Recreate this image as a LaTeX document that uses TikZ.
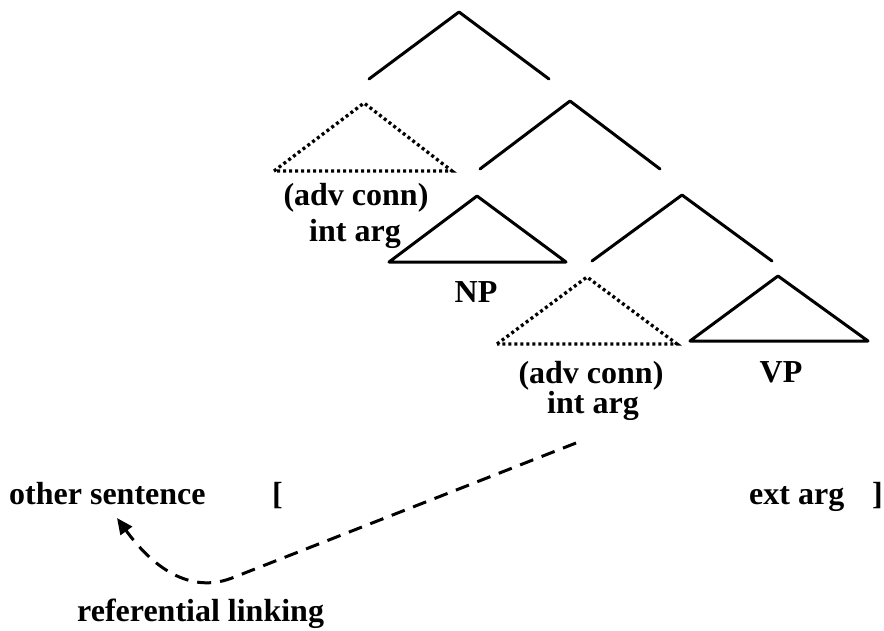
\documentclass[tikz,border=0pt]{standalone}
\usepackage{fontspec}
\setmainfont{Liberation Serif}
\usetikzlibrary{arrows.meta}
\begin{document}
\begin{tikzpicture}[x=1pt,y=-1pt,
  solidline/.style={line width=3pt,line cap=round,line join=round},
  dotline/.style={line width=3.3pt,dash pattern=on 3pt off 3pt},
  lbl/.style={font=\fontsize{32}{36}\selectfont\bfseries,inner sep=0pt,anchor=base}]
\useasboundingbox (0,0) rectangle (884,630);
% top angle
\coordinate (t1) at (459,12);
\coordinate (t1l) at (369,79);
\coordinate (t1r) at (549,79);
\draw[solidline] (t1l) -- (t1) -- (t1r);
% dotted triangle 1
\coordinate (d1) at (364,103);
\coordinate (d1l) at (274,171);
\coordinate (d1r) at (452,171);
\draw[dotline] (d1l) -- (d1) -- (d1r) -- cycle;
% second angle
\coordinate (t2) at (570,101);
\coordinate (t2l) at (480,169);
\coordinate (t2r) at (660,169);
\draw[solidline] (t2l) -- (t2) -- (t2r);
% NP triangle
\coordinate (np) at (477,196);
\coordinate (npl) at (389,262);
\coordinate (npr) at (566,262);
\draw[solidline] (npl) -- (np) -- (npr) -- cycle;
% third angle
\coordinate (t3) at (682,195);
\coordinate (t3l) at (592,261);
\coordinate (t3r) at (772,261);
\draw[solidline] (t3l) -- (t3) -- (t3r);
% dotted triangle 2
\coordinate (d2) at (587,277);
\coordinate (d2l) at (497,344);
\coordinate (d2r) at (677,344);
\draw[dotline] (d2l) -- (d2) -- (d2r) -- cycle;
% VP triangle
\coordinate (vp) at (778,276);
\coordinate (vpl) at (690,341);
\coordinate (vpr) at (868,341);
\draw[solidline] (vpl) -- (vp) -- (vpr) -- cycle;
% labels
\node[lbl] (adv1) at (356,205) {(adv conn)};
\node[lbl] (int1) at (355,241) {int arg};
\node[lbl] (nplab) at (476,302) {NP};
\node[lbl] (adv2) at (591,383) {(adv conn)};
\node[lbl] (int2) at (593,413) {int arg};
\node[lbl] (vplab) at (781,382) {VP};
\node[lbl,anchor=base west] (other) at (9,504) {other sentence};
\node[lbl,anchor=base west] (lbr) at (272,504) {[};
\node[lbl,anchor=base west] (ext) at (749,504) {ext arg};
\node[lbl,anchor=base west] (rbr) at (872,504) {]};
\node[lbl,anchor=base west] (ref) at (77,621) {referential linking};
% dashed referential link
\coordinate (ls) at (576,443);
\coordinate (lm) at (232,578);
\coordinate (lt) at (117,518);
\draw[line width=3pt,dash pattern=on 14pt off 9pt,-{Triangle[length=16pt,width=14pt]}]
  (ls) -- (lm) to[out=201,in=-54] (lt);
\end{tikzpicture}
\end{document}
